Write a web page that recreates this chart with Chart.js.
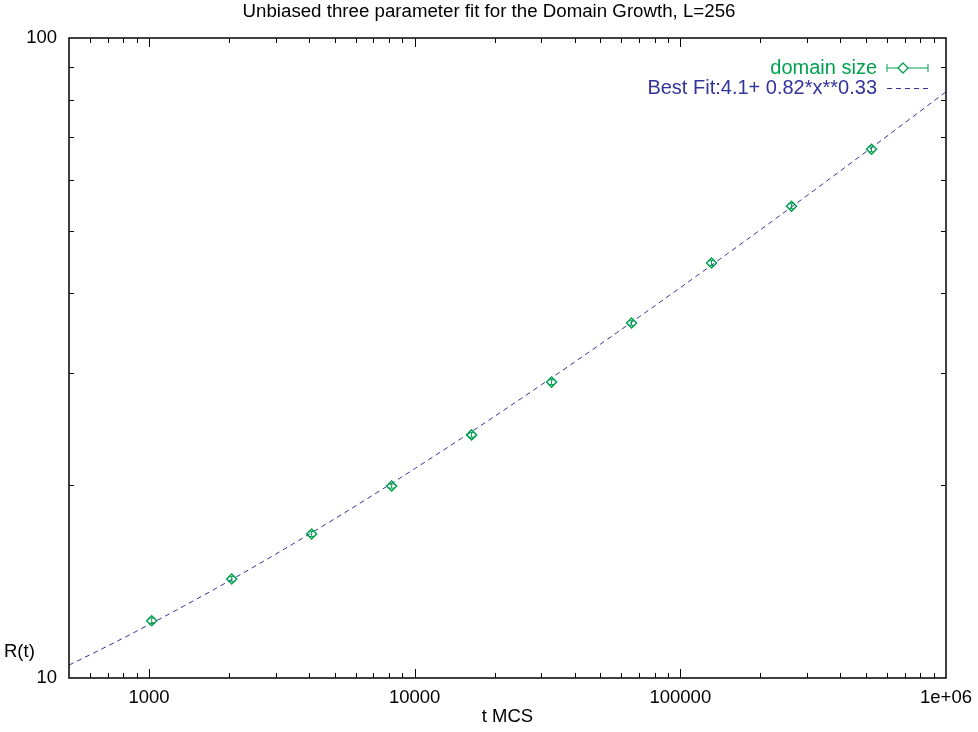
<!DOCTYPE html>
<html>
<head>
<meta charset="utf-8">
<script src="https://cdn.jsdelivr.net/npm/chart.js@4"></script>
<style>
html,body{margin:0;padding:0;background:#fff;}
#wrap{width:978px;height:732px;}
</style>
</head>
<body>
<div id="wrap"><canvas id="c" width="978" height="732"></canvas></div>
<script>
const titleText = "Unbiased three parameter fit for the Domain Growth, L=256";
const xTitle = "t MCS";
const yTitle = "R(t)";
const seriesName = "domain size";
const fitName = "Best Fit:4.1+ 0.82*x**0.33";

// measured domain size
const tValues = [1024, 2048, 4096, 8192, 16384, 32768, 65536, 131072, 262144, 524288];
const rValues = [12.29, 14.28, 16.79, 19.95, 23.98, 29.0, 35.86, 44.5, 54.6, 67.0];
const rErrors = [0.12, 0.12, 0.15, 0.15, 0.2, 0.25, 0.3, 0.4, 0.5, 0.6];

// best fit curve samples
const fitT = [500, 700, 1000, 1500, 2000, 3000, 5000, 7000, 10000, 15000, 20000, 30000, 50000, 70000, 100000, 150000, 200000, 300000, 500000, 700000, 1000000];
const fitR = [10.475, 11.224, 12.113, 13.262, 14.174, 15.616, 17.731, 19.332, 21.232, 23.686, 25.636, 28.72, 33.23, 36.66, 40.73, 45.98, 50.14, 56.74, 66.40, 73.72, 82.41];

const xTickLabels = {1000: "1000", 10000: "10000", 100000: "100000", 1000000: "1e+06"};
const yTickLabels = {10: "10", 100: "100"};
const xDecades = [100, 1000, 10000, 100000];
const yDecades = [10];
const minorMultipliers = [2, 3, 4, 5, 6, 7, 8, 9];

const GREEN = "#00a04f";
const BLUE = "#33339c";
const FONT = "'Liberation Sans', Arial, Helvetica, sans-serif";

const gnuplotPlugin = {
  id: "gnuplotDecor",
  afterDatasetsDraw(chart) {
    const ctx = chart.ctx;
    const a = chart.chartArea;
    const xs = chart.scales.x, ys = chart.scales.y;
    ctx.save();
    // error bars
    ctx.strokeStyle = GREEN;
    ctx.lineWidth = 1;
    tValues.forEach((t, i) => {
      const px = xs.getPixelForValue(t);
      const y1 = ys.getPixelForValue(rValues[i] - rErrors[i]);
      const y2 = ys.getPixelForValue(rValues[i] + rErrors[i]);
      ctx.beginPath();
      ctx.moveTo(px, y1); ctx.lineTo(px, y2);
      ctx.moveTo(px - 3, y1); ctx.lineTo(px + 3, y1);
      ctx.moveTo(px - 3, y2); ctx.lineTo(px + 3, y2);
      ctx.stroke();
    });
    // frame
    ctx.strokeStyle = "#000";
    ctx.lineWidth = 1.5;
    ctx.strokeRect(a.left, a.top, a.right - a.left, a.bottom - a.top);
    // inward ticks
    ctx.lineWidth = 1;
    ctx.beginPath();
    const xTickVals = [];
    xDecades.forEach(d => { xTickVals.push({v: d * 10, major: true}); minorMultipliers.forEach(m => xTickVals.push({v: d * m, major: false})); });
    xTickVals.forEach(tk => {
      if (tk.v <= xs.min || tk.v >= xs.max) return;
      const len = tk.major ? 9 : 5;
      const px = Math.round(xs.getPixelForValue(tk.v)) + 0.5;
      ctx.moveTo(px, a.bottom); ctx.lineTo(px, a.bottom - len);
      ctx.moveTo(px, a.top); ctx.lineTo(px, a.top + len);
    });
    const yTickVals = [];
    yDecades.forEach(d => { minorMultipliers.forEach(m => yTickVals.push({v: d * m, major: false})); });
    yTickVals.forEach(tk => {
      if (tk.v <= ys.min || tk.v >= ys.max) return;
      const len = tk.major ? 9 : 5;
      const py = Math.round(ys.getPixelForValue(tk.v)) + 0.5;
      ctx.moveTo(a.left, py); ctx.lineTo(a.left + len, py);
      ctx.moveTo(a.right, py); ctx.lineTo(a.right - len, py);
    });
    ctx.stroke();
    // texts
    ctx.fillStyle = "#000";
    ctx.textBaseline = "middle";
    ctx.textAlign = "center";
    ctx.font = "18.7px " + FONT;
    ctx.fillText(titleText, 489, 12);
    ctx.font = "18.5px " + FONT;
    ctx.fillText(xTitle, (a.left + a.right) / 2, 717);
    ctx.textAlign = "left";
    ctx.fillText(yTitle, 4, 652);
    // legend
    ctx.font = "20px " + FONT;
    ctx.textAlign = "right";
    ctx.fillStyle = GREEN;
    ctx.fillText(seriesName, 877, 68);
    ctx.fillStyle = BLUE;
    ctx.fillText(fitName, 877, 88);
    // legend samples
    ctx.strokeStyle = GREEN;
    ctx.lineWidth = 1;
    ctx.beginPath();
    ctx.moveTo(887, 68); ctx.lineTo(928, 68);
    ctx.moveTo(887, 64); ctx.lineTo(887, 72);
    ctx.moveTo(928, 64); ctx.lineTo(928, 72);
    ctx.stroke();
    ctx.fillStyle = "#fff";
    ctx.lineWidth = 1.3;
    ctx.beginPath();
    ctx.moveTo(903, 63); ctx.lineTo(908, 68); ctx.lineTo(903, 73); ctx.lineTo(898, 68); ctx.closePath();
    ctx.fill(); ctx.stroke();
    ctx.strokeStyle = BLUE;
    ctx.lineWidth = 1;
    ctx.setLineDash([5, 4]);
    ctx.beginPath();
    ctx.moveTo(887, 88.5); ctx.lineTo(928, 88.5);
    ctx.stroke();
    ctx.restore();
  }
};

new Chart(document.getElementById("c"), {
  type: "scatter",
  data: {
    datasets: [
      {
        label: fitName,
        data: fitT.map((t, i) => ({x: t, y: fitR[i]})),
        showLine: true,
        borderColor: BLUE,
        borderWidth: 1,
        borderDash: [5, 4],
        pointRadius: 0,
        cubicInterpolationMode: "monotone",
        fill: false,
        order: 2
      },
      {
        label: seriesName,
        data: tValues.map((t, i) => ({x: t, y: rValues[i]})),
        showLine: false,
        pointStyle: "rectRot",
        pointRadius: 5,
        pointBorderWidth: 1.5,
        borderColor: GREEN,
        backgroundColor: "rgba(255,255,255,0)",
        order: 1
      }
    ]
  },
  options: {
    responsive: false,
    animation: false,
    devicePixelRatio: 1,
    layout: {padding: {top: 38, right: 32, left: 0, bottom: 0}},
    plugins: {legend: {display: false}, title: {display: false}, tooltip: {enabled: false}},
    scales: {
      x: {
        type: "logarithmic",
        min: 500,
        max: 1000000,
        grid: {display: false, drawTicks: false},
        border: {display: false},
        ticks: {
          autoSkip: false,
          maxRotation: 0,
          padding: 9,
          color: "#000",
          font: {family: FONT, size: 18.5},
          callback: (v) => xTickLabels[v] !== undefined ? xTickLabels[v] : ""
        },
        afterFit: (s) => { s.height = 54; s.paddingLeft = 0; s.paddingRight = 0; }
      },
      y: {
        type: "logarithmic",
        min: 10,
        max: 100,
        grid: {display: false, drawTicks: false},
        border: {display: false},
        ticks: {
          autoSkip: false,
          padding: 12,
          color: "#000",
          font: {family: FONT, size: 18.5},
          callback: (v) => yTickLabels[v] !== undefined ? yTickLabels[v] : ""
        },
        afterFit: (s) => { s.width = 69; s.paddingTop = 0; s.paddingBottom = 0; }
      }
    }
  },
  plugins: [gnuplotPlugin]
});
</script>
</body>
</html>
